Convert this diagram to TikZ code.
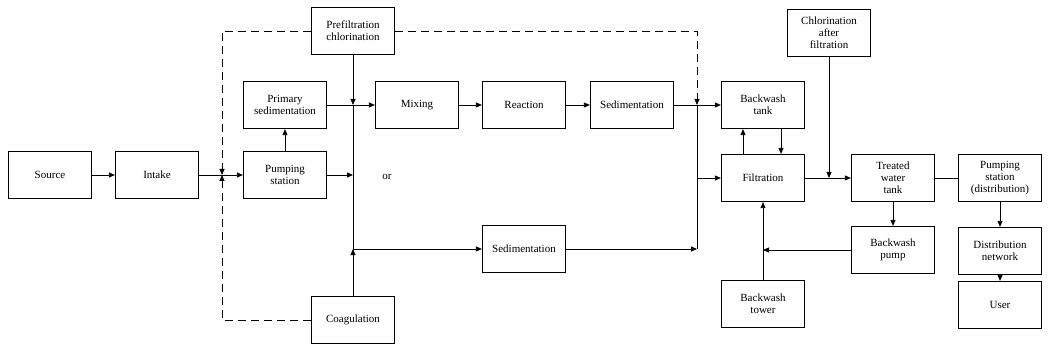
\documentclass[tikz,border=0pt]{standalone}
\usepackage{fontspec}
\setmainfont{Liberation Serif}
\usetikzlibrary{arrows.meta}
\begin{document}
\begin{tikzpicture}[x=1pt, y=-1pt,
    every node/.style={font=\fontsize{11}{12}\selectfont, align=center},
    blk/.style={draw, line width=1.2pt, minimum width=83pt, minimum height=47pt, inner sep=2pt},
    arr/.style={-{Triangle[length=6pt,width=5pt]}},
    dsh/.style={dash pattern=on 8pt off 5pt}]
      \useasboundingbox (0,0) rectangle (1050,350);
      \begin{scope}[line width=0.8pt]
      % nodes
      \node[blk] (src)    at (50,175)  {Source};
      \node[blk] (intake) at (157,175) {Intake};
      \node[blk] (pump1)  at (285,175) {Pumping\\station};
      \node[blk] (psed)   at (285,105) {Primary\\sedimentation};
      \node[blk] (prechl) at (353,31)  {Prefiltration\\chlorination};
      \node[blk] (coag)   at (353,320) {Coagulation};
      \node[blk] (mix)    at (417,105) {Mixing};
      \node[blk] (react)  at (524,105) {Reaction};
      \node[blk] (sed1)   at (632,105) {Sedimentation};
      \node[blk] (sed2)   at (524,249) {Sedimentation};
      \node[blk] (bwtank) at (763,105) {Backwash\\tank};
      \node[blk] (filt)   at (763,178) {Filtration};
      \node[blk] (bwtower) at (763,304) {Backwash\\tower};
      \node[blk] (chlaf)  at (829,33)  {Chlorination\\after\\filtration};
      \node[blk] (treat)  at (893,178) {Treated\\water\\tank};
      \node[blk] (bwpump) at (893,250) {Backwash\\pump};
      \node[blk] (pumpd)  at (1000,178) {Pumping\\station\\(distribution)};
      \node[blk] (distnet) at (1000,251) {Distribution\\network};
      \node[blk] (user)   at (1000,305) {User};
      \node (or) at (387,177) {or};
      % junction points
      \coordinate (j1) at (222,175);
      \coordinate (a1) at (353,105);
      \coordinate (a2) at (353,175);
      \coordinate (a3) at (353,249);
      \coordinate (b1) at (697,105);
      \coordinate (b2) at (697,178);
      \coordinate (b3) at (697,249);
      % main line
      \draw[arr] (src) -- (intake);
      \draw[arr] (intake) -- (pump1);
      \draw[arr] (pump1) -- (psed);
      \draw[arr] (psed) -- (mix);
      \draw[arr] (mix) -- (react);
      \draw[arr] (react) -- (sed1);
      \draw[arr] (prechl) -- (a1);
      \draw (a1) -- (a3);
      \draw[arr] (coag) -- (a3);
      \draw[arr] (pump1) -- (a2);
      \draw[arr] (a3) -- (sed2);
      % dashed prefiltration lines
      \draw[dsh, arr] (prechl.west) -| (j1);
      \draw[dsh, arr] (coag.west) -| (j1);
      \draw[dsh, arr] (prechl.east) -| (b1);
      % filtration side
      \draw (sed1) -- (b1);
      \draw (b1) -- (b3);
      \draw[arr] (sed2) -- (b3);
      \draw[arr] (b1) -- (bwtank);
      \draw[arr] (b2) -- (filt);
      \draw[arr] ([xshift=-20pt]filt.north) -- ([xshift=-20pt]bwtank.south);
      \draw[arr] ([xshift=18pt]bwtank.south) -- ([xshift=18pt]filt.north);
      \draw[arr] (chlaf) -- (chlaf |- filt);
      \draw[arr] (filt) -- (treat);
      \draw (treat) -- (pumpd);
      \draw[arr] (treat) -- (bwpump);
      \draw[arr] (bwpump) -- (bwpump -| bwtower);
      \draw[arr] (bwtower) -- (filt);
      \draw[arr] (pumpd) -- (distnet);
      \draw[arr] (distnet) -- (user);
      \end{scope}
\end{tikzpicture}
\end{document}
